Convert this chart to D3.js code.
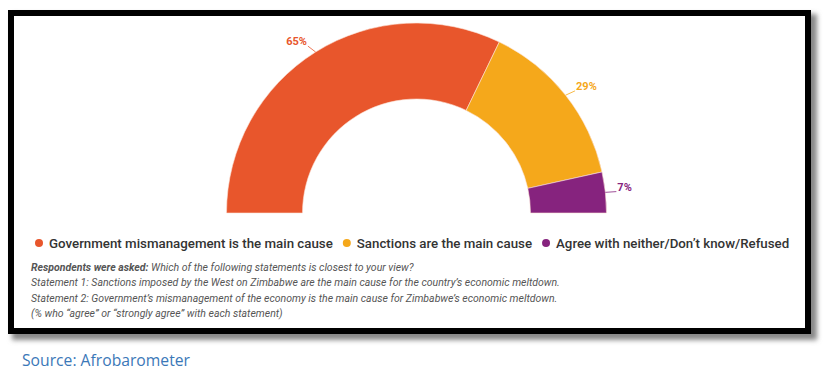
<!DOCTYPE html>
<html>
<head>
<meta charset="utf-8">
<script src="https://cdn.jsdelivr.net/npm/d3@7"></script>
<style>
  body { margin: 0; background: #fff; }
  svg { display: block; }
</style>
</head>
<body>
<div class="canvas"></div>
<script>
// data
const categories = ['Government mismanagement is the main cause', 'Sanctions are the main cause', 'Agree with neither/Don\u2019t know/Refused'];
const values = [65, 29, 7];
const labels = ['65%', '29%', '7%'];
const colors = ['#e8562c', '#f5a81b', '#86237e'];

const notes = [
  ['Respondents were asked:', ' Which of the following statements is closest to your view?'],
  ['', 'Statement 1: Sanctions imposed by the West on Zimbabwe are the main cause for the country\u2019s economic meltdown.'],
  ['', 'Statement 2: Government\u2019s mismanagement of the economy is the main cause for Zimbabwe\u2019s economic meltdown.'],
  ['', '(% who \u201cagree\u201d or \u201cstrongly agree\u201d with each statement)']
];

const width = 824, height = 376;

const svg = d3.select('.canvas')
  .append('svg')
  .attr('width', width)
  .attr('height', height);

// drop shadow for the black frame
const defs = svg.append('defs');
const blur = defs.append('filter').attr('id', 'shadow').attr('x', -0.05).attr('y', -0.1).attr('width', 1.1).attr('height', 1.2);
blur.append('feGaussianBlur').attr('stdDeviation', 2.5);

svg.append('rect')
  .attr('x', 12).attr('y', 14).attr('width', 805).attr('height', 326)
  .attr('fill', '#888').attr('filter', 'url(#shadow)');

svg.append('rect')
  .attr('x', 11).attr('y', 13).attr('width', 797).attr('height', 318)
  .attr('fill', '#fff').attr('stroke', '#000').attr('stroke-width', 6);

// half donut
const cx = 416.5, cy = 213;
const outerR = 190, innerR = 114;

const pie = d3.pie().sort(null).startAngle(-Math.PI / 2).endAngle(Math.PI / 2);
const arcs = pie(values);
const arc = d3.arc().innerRadius(innerR).outerRadius(outerR);

const chart = svg.append('g').attr('transform', `translate(${cx}, ${cy})`);

chart.selectAll('path.slice')
  .data(arcs)
  .enter()
  .append('path')
  .attr('class', 'slice')
  .attr('d', arc)
  .attr('fill', (d, i) => colors[i])
  .attr('stroke', '#fbe3d6')
  .attr('stroke-width', 0.6);

// labels with small leader lines
const lineIn = d3.arc().innerRadius(outerR).outerRadius(outerR);
const lineOut = d3.arc().innerRadius(outerR + 7).outerRadius(outerR + 7);

chart.selectAll('line.leader')
  .data(arcs)
  .enter()
  .append('line')
  .attr('class', 'leader')
  .attr('x1', d => lineIn.centroid(d)[0])
  .attr('y1', d => lineIn.centroid(d)[1])
  .attr('x2', d => lineOut.centroid(d)[0] + (lineOut.centroid(d)[0] < 0 ? -4 : 4))
  .attr('y2', d => lineOut.centroid(d)[1])
  .attr('stroke', (d, i) => colors[i])
  .attr('stroke-width', 0.8);

chart.selectAll('text.value')
  .data(arcs)
  .enter()
  .append('text')
  .attr('class', 'value')
  .attr('x', d => lineOut.centroid(d)[0] + (lineOut.centroid(d)[0] < 0 ? -5 : 5))
  .attr('y', d => lineOut.centroid(d)[1] - 1)
  .attr('text-anchor', d => lineOut.centroid(d)[0] < 0 ? 'end' : 'start')
  .attr('font-family', 'Roboto, sans-serif')
  .attr('font-weight', 700)
  .attr('font-size', 11)
  .attr('fill', (d, i) => colors[i])
  .text((d, i) => labels[i]);

// legend
const legend = svg.append('g').attr('transform', 'translate(39, 243)');
let lx = 0;
categories.forEach((c, i) => {
  legend.append('circle')
    .attr('cx', lx).attr('cy', 0).attr('r', 4)
    .attr('fill', colors[i]);
  const t = legend.append('text')
    .attr('x', lx + 10).attr('y', 4.8)
    .attr('font-family', 'Roboto, sans-serif')
    .attr('font-weight', 500)
    .attr('font-size', 13.3)
    .attr('fill', '#333')
    .text(c);
  lx += 10 + t.node().getComputedTextLength() + 14;
});

// notes under the legend
const noteG = svg.append('g').attr('transform', 'translate(31, 271)');
notes.forEach((n, i) => {
  const t = noteG.append('text')
    .attr('x', 0).attr('y', i * 15.3)
    .attr('font-family', 'Roboto, sans-serif')
    .attr('font-style', 'italic')
    .attr('font-size', 10.5)
    .attr('fill', '#555');
  if (n[0]) t.append('tspan').attr('font-weight', 700).text(n[0]);
  t.append('tspan').text(n[1]);
});

// source line
svg.append('text')
  .attr('x', 22).attr('y', 366)
  .attr('font-family', '"Open Sans", sans-serif')
  .attr('font-size', 15.7)
  .attr('fill', '#3b78b8')
  .text('Source: Afrobarometer');
</script>
</body>
</html>
